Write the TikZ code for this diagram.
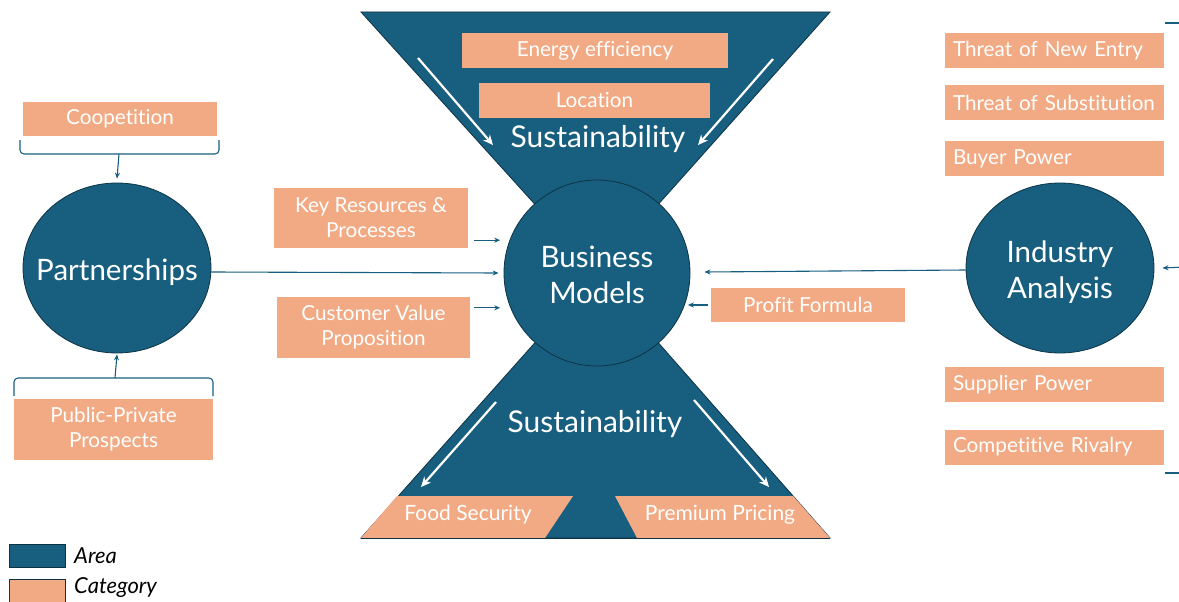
\documentclass[tikz,border=0pt]{standalone}
\usepackage{fontspec}
\setmainfont{Lato}[Ligatures=NoCommon]
\usetikzlibrary{arrows.meta,shapes.geometric,calc}
\definecolor{areablue}{HTML}{175E7F}
\definecolor{catorange}{HTML}{F2AA84}
\definecolor{edgedark}{HTML}{0E3345}
% area label that does not resize the ellipse around it
\newcommand{\arealabel}[1]{\makebox[0pt]{\raisebox{-12pt}[0pt][0pt]{\begin{tabular}[c]{@{}c@{}}#1\end{tabular}}}}
\begin{document}
\begin{tikzpicture}[x=1pt,y=-1pt,
  area/.style={ellipse, fill=areablue, draw=edgedark, line width=0.8pt, text=white,
    font=\fontsize{29.5}{36}\selectfont, align=center, inner sep=0pt},
  cat/.style={rectangle, fill=catorange, text=white,
    font=\fontsize{20.7}{25}\selectfont, align=center, inner sep=0pt},
  force/.style={cat, text width=203pt, inner xsep=8pt, align=left, minimum height=35pt},
  link/.style={draw=areablue, line width=1.1pt, -{Stealth[length=6pt,width=5pt]}},
  flow/.style={draw=white, line width=2.2pt, -{Stealth[length=10pt,width=9pt]}},
  brace/.style={draw=areablue, line width=1.1pt, rounded corners=4pt},
  big/.style={text=white, font=\fontsize{30}{34}\selectfont},
  band/.style={text=white, font=\fontsize{21}{25}\selectfont},
  legend/.style={font=\fontsize{22}{26}\selectfont\itshape, anchor=west, inner sep=0pt}]
\useasboundingbox (0,0) rectangle (1179,602);
\clip (0,0) rectangle (1179,602);

% hourglass: two triangles meeting at the business-model hub
\coordinate (apex) at (597,273);
\filldraw[fill=areablue, draw=edgedark, line width=0.8pt] (361,12) -- (830,12) -- (apex) -- cycle;
\filldraw[fill=areablue, draw=edgedark, line width=0.8pt] (361,538) -- (830,538) -- (apex) -- cycle;

% outcome bands along the base of the lower triangle
\fill[catorange] (397,496) -- (573,496) -- (545,538) -- (361,538) -- cycle;
\fill[catorange] (615,496) -- (793,496) -- (830,538) -- (637,538) -- cycle;
\draw[edgedark, line width=0.8pt] (361,538) -- (830,538);
\node[band] (fs) at (468,515) {Food Security};
\node[band] (pp) at (720,515) {Premium Pricing};

% upper triangle content
\node[cat, minimum width=266pt, minimum height=35pt] (ee) at (595,50.5) {Energy efficiency};
\node[cat, minimum width=231pt, minimum height=35pt] (loc) at (594.5,100.5) {Location};
\node[big] (sustop) at (598,139) {Sustainability};
\node[big] (susbot) at (595,424) {Sustainability};

% white flow arrows inside the triangles
\draw[flow] (418,58) -- (493,145);
\draw[flow] (773,59) -- (698,145);
\draw[flow] (496,402) -- (421,487);
\draw[flow] (694,400) -- (769,487);

% hub and the two areas beside it
\node[area, minimum width=186pt, minimum height=186pt] (bm) at (597,273)
  {\arealabel{Business\\Models}};
\node[area, minimum width=188pt, minimum height=170pt] (pt) at (117,268)
  {\arealabel{Partnerships}};
\node[area, minimum width=188pt, minimum height=170pt] (ia) at (1060,268)
  {\arealabel{Industry\\Analysis}};

% business-model building blocks
\node[cat, minimum width=194pt, minimum height=60pt] (kr) at (371,218) {Key Resources \&\\Processes};
\node[cat, minimum width=193pt, minimum height=61pt] (cvp) at (373.5,327.5) {Customer Value\\Proposition};
\node[cat, minimum width=194pt, minimum height=34pt] (pf) at (808,305) {Profit Formula};
\draw[link] ($(kr.south east)+(6,-8)$) -- ($(kr.south east)+(32,-8)$);
\draw[link] ($(cvp.north east)+(4,11)$) -- ($(cvp.north east)+(30,11)$);
\draw[link] ([xshift=-3pt]pf.west) -- ++(-20,0);

% area links into the hub
\draw[link] ([yshift=-4pt]pt.east) -- ([xshift=-5pt]bm.west);
\draw[link] ([yshift=-2pt]ia.west) -- ([xshift=14pt,yshift=1pt]bm.east);

% partnership categories
\node[cat, minimum width=194pt, minimum height=34pt] (coop) at (120,119) {Coopetition};
\node[cat, minimum width=199pt, minimum height=61pt] (ppp) at (113.5,429.5) {Public-Private\\Prospects};
\draw[brace] (20,140) -- (20,154) -- (219,154) -- (219,140);
\coordinate (coopmid) at (119,154);
\draw[link] (coopmid) -- ([yshift=4pt]pt.north);
\draw[brace] (14,396) -- (14,378) -- (213,378) -- (213,396);
\coordinate (pppmid) at (115,378);
\draw[link] (pppmid) -- ([yshift=-1pt]pt.south);

% five forces
\node[force] (tne) at (1054.5,50.5) {Threat of New Entry};
\node[force] (tos) at (1054.5,102.5) {Threat of Substitution};
\node[force] (bp) at (1054.5,158.5) {Buyer Power};
\node[force] (sp) at (1054.5,384.5) {Supplier Power};
\node[force] (cr) at (1054.5,447) {Competitive Rivalry};
\coordinate (brtop) at (1185,23);
\coordinate (brbot) at (1185,473);
\coordinate (brmid) at (1185,267);
\draw[areablue, line width=1.1pt] ([xshift=1pt]tne.east |- brtop) -- (brtop);
\draw[areablue, line width=1.1pt] ([xshift=1pt]cr.east |- brbot) -- (brbot);
\draw[link] (brmid) -- ([xshift=8pt]ia.east);

% legend
\node[rectangle, fill=areablue, draw=edgedark, line width=0.8pt, minimum width=56pt, minimum height=23pt, inner sep=0pt] (keyarea) at (37,555.5) {};
\node[rectangle, fill=catorange, draw=edgedark, line width=0.8pt, minimum width=56pt, minimum height=24pt, inner sep=0pt] (keycat) at (37,591) {};
\node[legend] (keyareatxt) at (74,556) {Area};
\node[legend] (keycattxt) at (74,588) {Category};
\end{tikzpicture}
\end{document}
